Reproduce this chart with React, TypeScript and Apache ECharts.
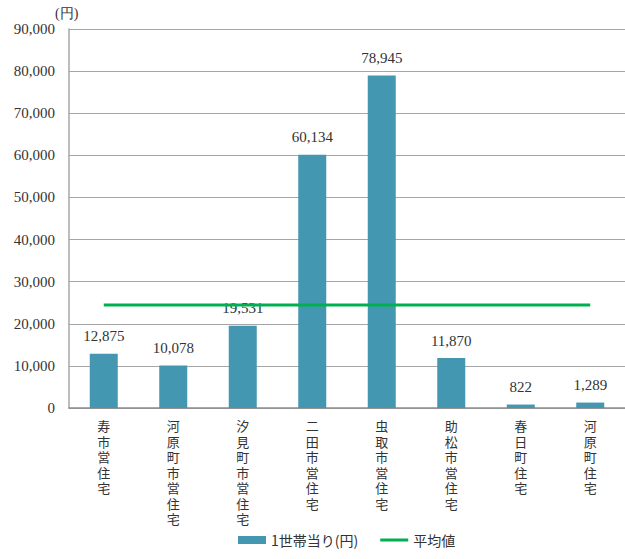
import React, { useEffect, useRef } from "react";
import * as echarts from "echarts";

const categories = ["寿市営住宅", "河原町市営住宅", "汐見町市営住宅", "二田市営住宅", "虫取市営住宅", "助松市営住宅", "春日町住宅", "河原町住宅"];
const perHousehold = [12875, 10078, 19531, 60134, 78945, 11870, 822, 1289];
const averageValue = Math.round(perHousehold.reduce((a, b) => a + b, 0) / perHousehold.length);
const averageLine = categories.map(() => averageValue);
const yTicks = { min: 0, max: 90000, interval: 10000 };

const serif = "Liberation Serif";
const cjk = "Noto Sans CJK JP";

export default function App() {
  const ref = useRef<HTMLDivElement>(null);
  useEffect(() => {
    if (!ref.current) return;
    const chart = echarts.init(ref.current, null, { renderer: "svg" });
    chart.setOption({
      animation: false,
      backgroundColor: "#ffffff",
      grid: { left: 69, right: -4, top: 29, bottom: 151, containLabel: false },
      xAxis: {
        type: "category",
        data: categories,
        axisLine: { lineStyle: { color: "#8c8c8c", width: 1.5 } },
        axisTick: { show: false },
        axisLabel: {
          interval: 0,
          margin: 10,
          fontSize: 13,
          lineHeight: 15.5,
          color: "#333333",
          fontFamily: cjk,
          formatter: (v: string) => v.split("").join("\n"),
        },
      },
      yAxis: {
        type: "value",
        min: yTicks.min,
        max: yTicks.max,
        interval: yTicks.interval,
        name: "(円)",
        nameLocation: "end",
        nameGap: 9,
        nameTextStyle: { fontSize: 14, color: "#333333", fontFamily: serif, align: "left", padding: [0, 0, 0, -14] },
        axisLine: { show: true, lineStyle: { color: "#a6a6a6", width: 1.5 } },
        axisTick: { show: false },
        splitLine: { lineStyle: { color: "#a6a6a6", width: 1 } },
        axisLabel: {
          fontSize: 15,
          color: "#333333",
          fontFamily: serif,
          margin: 14,
          formatter: (v: number) => v.toLocaleString("en-US"),
        },
      },
      legend: {
        bottom: 7,
        left: 233,
        itemGap: 22,
        itemWidth: 28,
        itemHeight: 8,
        textStyle: { fontSize: 14, color: "#333333", fontFamily: cjk },
        data: [
          { name: "1世帯当り(円)", icon: "rect" },
          { name: "平均値", icon: "path://M0,0 L28,0 L28,3 L0,3 Z" },
        ],
      },
      series: [
        {
          name: "1世帯当り(円)",
          type: "bar",
          data: perHousehold,
          barWidth: 28,
          itemStyle: { color: "#4397B0" },
          label: {
            show: true,
            position: "top",
            distance: 10,
            fontSize: 15,
            color: "#333333",
            fontFamily: serif,
            formatter: (p: any) => Number(p.value).toLocaleString("en-US"),
          },
          z: 2,
        },
        {
          name: "平均値",
          type: "line",
          data: averageLine,
          symbol: "none",
          lineStyle: { color: "#00B050", width: 3 },
          itemStyle: { color: "#00B050" },
          z: 3,
        },
      ],
    });
    return () => chart.dispose();
  }, []);
  return <div ref={ref} style={{ width: 625, height: 559, position: "absolute", left: 0, top: 0 }} />;
}
